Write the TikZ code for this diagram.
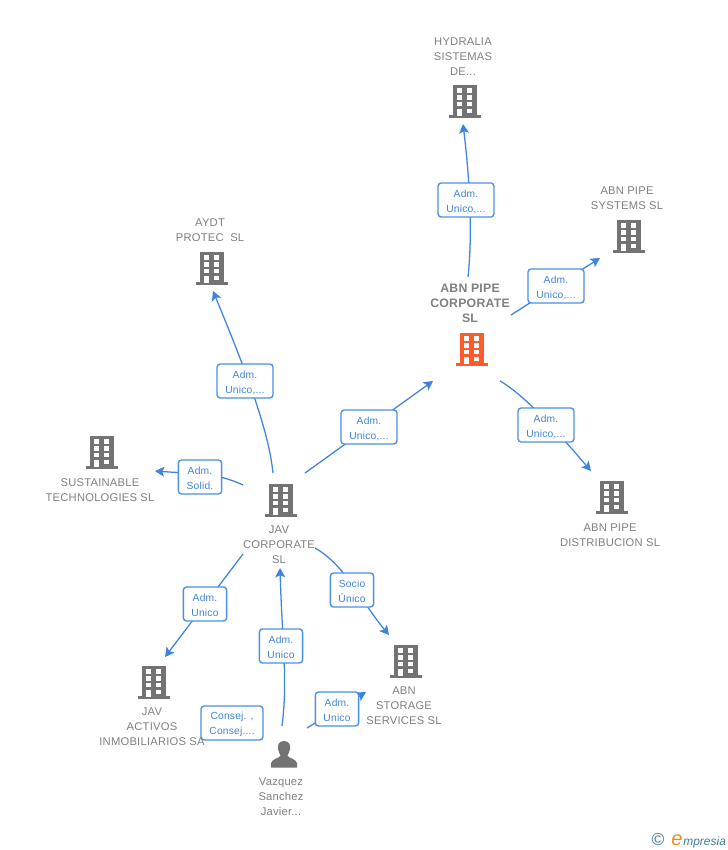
\documentclass[tikz,border=0pt]{standalone}
\usepackage{fontspec}
\setmainfont{Liberation Sans}
\usetikzlibrary{arrows.meta}
\definecolor{linkblue}{HTML}{3F83E0}
\definecolor{boxblue}{HTML}{4C8FE6}
\definecolor{txtblue}{HTML}{3F83DC}
\definecolor{iconGray}{HTML}{737373}
\definecolor{nameGray}{HTML}{808080}
\definecolor{hotOrange}{HTML}{FF5A2B}
\definecolor{logoTeal}{HTML}{3F7F99}
\definecolor{logoOrange}{HTML}{F08A1D}
\tikzset{
  x=0.75pt,y=-0.75pt,
  conn/.style={draw=linkblue,line width=0.95pt,-{Stealth[length=7pt,width=7.5pt,inset=1.6pt]}},
  tag/.style={draw=boxblue,line width=1.05pt,rounded corners=2.4pt,fill=white,text=txtblue,
     font=\fontsize{7.7pt}{11.25pt}\selectfont\addfontfeatures{LetterSpace=2.0},align=center,inner sep=0pt,minimum height=25.5pt},
  tagw/.style={tag,minimum width=42pt},
  tagn/.style={tag,minimum width=32.5pt},
  tagc/.style={tag,minimum width=46.5pt},
  nm/.style={text=nameGray,font=\fontsize{8.4pt}{11.25pt}\selectfont\addfontfeatures{LetterSpace=2.0},align=center,inner sep=0pt},
  nmb/.style={text=nameGray,font=\fontsize{9.2pt}{11.25pt}\selectfont\bfseries\addfontfeatures{LetterSpace=2.0},align=center,inner sep=0pt},
  iconbox/.style={inner sep=0pt,minimum width=24pt,minimum height=25pt},
}
\newcommand{\tg}[2]{\rule{0pt}{8pt}#1\\#2}
\newcommand{\bldg}[4]{%
  \node[iconbox] (#1) at (#2,#3) {};
  \begin{scope}[shift={(#2,#3)}]
    \fill[#4] (-12,-16) rectangle (12,14.5);
    \fill[#4] (-16,14.3) rectangle (16,16.6);
    \fill[white] (-7.7,-12.7) rectangle (-2.7,-8.4);
    \fill[white] (2.3,-12.7) rectangle (7.3,-8.4);
    \fill[white] (-7.7,-5.7) rectangle (-2.7,-1.5);
    \fill[white] (2.3,-5.7) rectangle (7.3,-1.5);
    \fill[white] (-7.7,1) rectangle (-2.7,5.2);
    \fill[white] (2.3,1) rectangle (7.3,5.2);
    \fill[white] (-7.7,7.5) rectangle (-2.7,14.5);
    \fill[white] (2.3,7.5) rectangle (7.3,11.8);
  \end{scope}}
\begin{document}
\begin{tikzpicture}
\path[use as bounding box,fill=white] (0,0) rectangle (728,850);
% icons
\bldg{hyd}{465}{101}{iconGray}
\bldg{sys}{629}{236}{iconGray}
\bldg{corp}{472}{349}{hotOrange}
\bldg{aydt}{212}{268}{iconGray}
\bldg{sus}{102}{452}{iconGray}
\bldg{dis}{612}{497}{iconGray}
\bldg{jav}{281}{500}{iconGray}
\bldg{act}{154}{682}{iconGray}
\bldg{sto}{406}{661}{iconGray}
\node[inner sep=0pt,minimum width=20pt,minimum height=20pt] (vaz) at (284,754) {};
\fill[iconGray] (284,741) .. controls (278,741) and (277.5,746) .. (278,749)
  .. controls (278.5,752) and (280,754) .. (280.5,755.5)
  .. controls (280.5,758) and (272,758.5) .. (271,763) -- (271,767.5) -- (297,767.5) -- (297,763)
  .. controls (296,758.5) and (287.5,758) .. (287.5,755.5)
  .. controls (288,754) and (289.5,752) .. (290,749)
  .. controls (290.5,746) and (290,741) .. (284,741) -- cycle;
% connector ends
\coordinate (a1) at (468,277); \coordinate (b1) at (463,124);
\coordinate (a2) at (511,315); \coordinate (b2) at (600,258);
\coordinate (a3) at (500,381); \coordinate (b3) at (591,471);
\coordinate (a4) at (305,473); \coordinate (b4) at (433,381);
\coordinate (a5) at (273,473); \coordinate (b5) at (213,291);
\coordinate (a6) at (243,485); \coordinate (b6) at (155,471);
\coordinate (a7) at (243,554); \coordinate (b7) at (165,657);
\coordinate (a8) at (315,548); \coordinate (b8) at (389,635);
\coordinate (a9) at (282,726); \coordinate (b9) at (280,568);
\coordinate (a10) at (307,728); \coordinate (b10) at (366,692);
% connectors
\draw[conn] (a1) .. controls (472,240) and (471,190) .. (b1);
\draw[conn] (a2) -- (b2);
\draw[conn] (a3) .. controls (525,395) and (560,435) .. (b3);
\draw[conn] (a4) -- (b4);
\draw[conn] (a5) .. controls (269,435) and (252,385) .. (b5);
\draw[conn] (a6) .. controls (215,472) and (195,474) .. (b6);
\draw[conn] (a7) -- (b7);
\draw[conn] (a8) .. controls (345,565) and (360,600) .. (b8);
\draw[conn] (a9) .. controls (288,680) and (282,640) .. (b9);
\draw[conn] (a10) -- (b10);
% relation tags
\node[tagw] (t1) at (466,200) {\tg{Adm.}{Unico,...}};
\node[tagw] (t2) at (556,286) {\tg{Adm.}{Unico,...}};
\node[tagw] (t3) at (546,425) {\tg{Adm.}{Unico,...}};
\node[tagw] (t4) at (369,427) {\tg{Adm.}{Unico,...}};
\node[tagw] (t5) at (245,381) {\tg{Adm.}{Unico,...}};
\node[tagn] (t6) at (200,477) {\tg{Adm.}{Solid.}};
\node[tagn] (t7) at (205,604) {\tg{Adm.}{Unico}};
\node[tagn] (t8) at (352,590) {\tg{Socio}{Único}};
\node[tagn] (t9) at (281,646) {\tg{Adm.}{Unico}};
\node[tagn] (t10) at (337,709) {\tg{Adm.}{Unico}};
\node[tagc] (t11) at (232,723) {\tg{Consej. ,}{Consej....}};
% names
\node[nm] (n1) at (463,57) {HYDRALIA\\SISTEMAS\\DE...};
\node[nm] (n2) at (627,198) {ABN PIPE\\SYSTEMS SL};
\node[nmb] (n3) at (470,303) {ABN PIPE\\CORPORATE\\SL};
\node[nm] (n4) at (210,230) {AYDT\\PROTEC\ \ SL};
\node[nm] (n5) at (100,490) {SUSTAINABLE\\TECHNOLOGIES SL};
\node[nm] (n6) at (610,535) {ABN PIPE\\DISTRIBUCION SL};
\node[nm] (n7) at (279,545) {JAV\\CORPORATE\\SL};
\node[nm] (n8) at (152,727) {JAV\\ACTIVOS\\INMOBILIARIOS SA};
\node[nm] (n9) at (404,705.5) {ABN\\STORAGE\\SERVICES SL};
\node[nm] (n10) at (281,797) {Vazquez\\Sanchez\\Javier...};
% logo
\node[inner sep=0pt,text=logoTeal,font=\fontsize{13pt}{13pt}\selectfont] (copy) at (658,840) {©};
\node[inner sep=0pt,anchor=base west,text=logoOrange,font=\fontsize{15pt}{15pt}\selectfont\itshape] (loge) at (671,845) {e};
\node[inner sep=0pt,anchor=base west,text=logoTeal,font=\fontsize{9pt}{10pt}\selectfont\itshape] (logt) at (683,845) {mpresia};
\end{tikzpicture}
\end{document}
